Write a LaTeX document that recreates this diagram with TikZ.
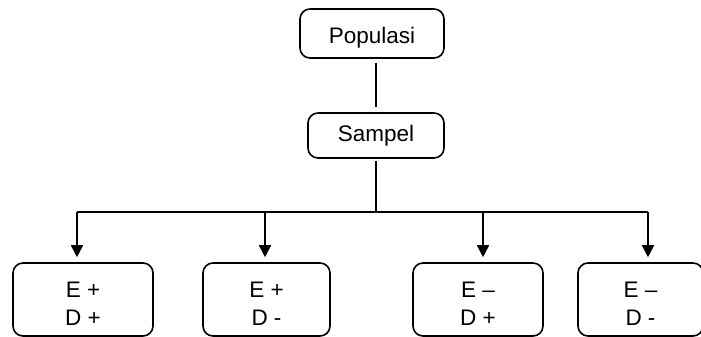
\documentclass[tikz,border=0pt]{standalone}
\usepackage{fontspec}
\setmainfont{Liberation Sans}
\usetikzlibrary{arrows.meta}
\newcommand\lowr[1]{\raisebox{-4pt}[\height][\depth]{#1}}
\begin{document}
\begin{tikzpicture}[x=1pt,y=-1pt,
  box/.style={draw,line width=1.6pt,rounded corners=10pt,inner sep=0pt,align=center,
    font=\fontsize{22.5}{28}\selectfont},
  link/.style={line width=1.6pt},
  arr/.style={line width=1.6pt,-{Triangle[length=12pt,width=12pt]},shorten >=5pt}]
\useasboundingbox (0,0) rectangle (701,337);
\clip (0,0) rectangle (701,337);
\node[box,minimum width=144pt,minimum height=49pt] (pop) at (372,33.5) {\lowr{Populasi}};
\node[box,minimum width=136pt,minimum height=45pt] (sam) at (376,135.5) {Sampel};
\node[box,minimum width=140pt,minimum height=73pt] (b1) at (83,299.5) {\lowr{E +}\\\lowr{D +}};
\node[box,minimum width=127pt,minimum height=73pt] (b2) at (266.5,299.5) {\lowr{E +}\\\lowr{D -}};
\node[box,minimum width=130pt,minimum height=73pt] (b3) at (478,299.5) {\lowr{E –}\\\lowr{D +}};
\node[box,minimum width=125pt,minimum height=73pt] (b4) at (640.5,299.5) {\lowr{E –}\\\lowr{D -}};
\coordinate (bus) at (376,212);
\coordinate (j1) at (77,212);
\coordinate (j2) at (265,212);
\coordinate (j3) at (483,212);
\coordinate (j4) at (648,212);
\draw[link,shorten <=4pt,shorten >=5pt] (sam.north |- pop.south) -- (sam.north);
\draw[link,shorten <=2pt] (sam.south) -- (bus);
\draw[link] (j1) -- (j4);
\draw[arr] (j1) -- (j1 |- b1.north);
\draw[arr] (j2) -- (j2 |- b2.north);
\draw[arr] (j3) -- (j3 |- b3.north);
\draw[arr] (j4) -- (j4 |- b4.north);
\end{tikzpicture}
\end{document}
